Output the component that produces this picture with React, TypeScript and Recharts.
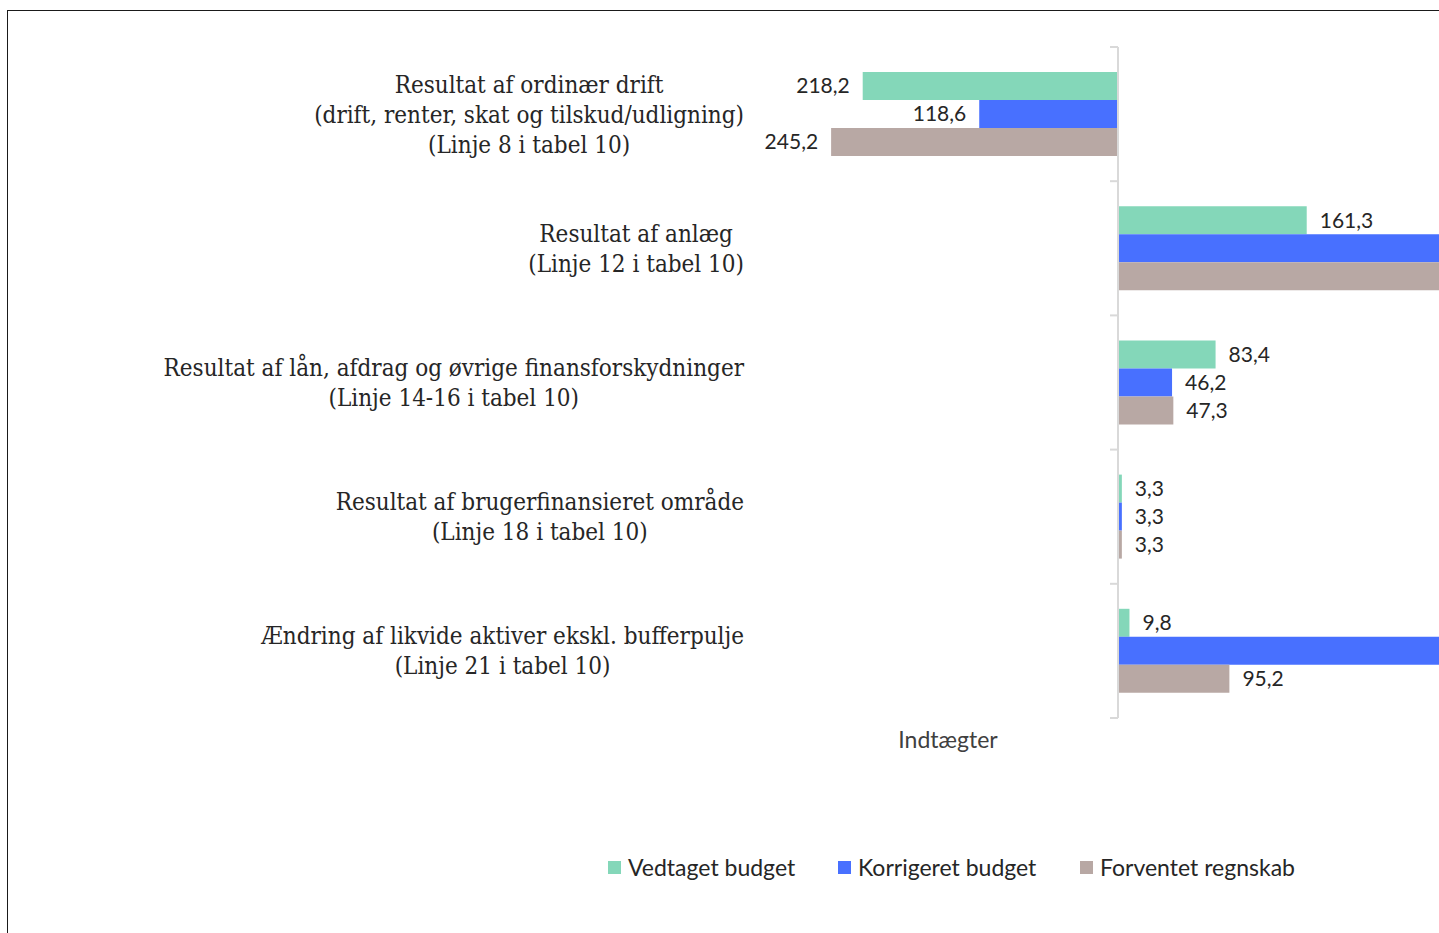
import React from 'react';
import { BarChart, Bar, XAxis, YAxis, ReferenceLine, LabelList, Legend } from 'recharts';

const categoryLines: string[][] = [
  ['Resultat af ordinær drift', '(drift, renter, skat og tilskud/udligning)', '(Linje 8 i tabel 10)'],
  ['Resultat af anlæg', '(Linje 12 i tabel 10)'],
  ['Resultat af lån, afdrag og øvrige finansforskydninger', '(Linje 14-16 i tabel 10)'],
  ['Resultat af brugerfinansieret område', '(Linje 18 i tabel 10)'],
  ['Ændring af likvide aktiver ekskl. bufferpulje', '(Linje 21 i tabel 10)'],
];
const vedtaget = [-218.2, 161.3, 83.4, 3.3, 9.8];
const korrigeret = [-118.6, 318.4, 46.2, 3.3, 301.5];
const forventet = [-245.2, 296.1, 47.3, 3.3, 95.2];
const seriesNames = ['Vedtaget budget', 'Korrigeret budget', 'Forventet regnskab'];
const seriesKeys = ['v', 'k', 'f'];
const seriesColors = ['#84D7B9', '#4870FF', '#B8A8A4'];
const xDomain: [number, number] = [-300, 400];
const xAxisTitle = 'Indtægter';

const data = categoryLines.map((lines, i) => ({
  name: lines.join('\n'),
  v: vedtaget[i],
  k: korrigeret[i],
  f: forventet[i],
}));

const CAT_FAMILY = '"DejaVu Serif Condensed", "DejaVu Serif", serif';
const CAT_SIZE = 24;
let ctx: CanvasRenderingContext2D | null = null;
function measure(s: string): number {
  if (!ctx) ctx = document.createElement('canvas').getContext('2d');
  if (!ctx) return s.length * 10;
  ctx.font = `${CAT_SIZE}px ${CAT_FAMILY}`;
  return ctx.measureText(s).width;
}

const CategoryTick = (props: any) => {
  const { x, y, payload } = props;
  const lines = String(payload.value).split('\n');
  const maxW = Math.max(...lines.map(measure));
  const cx = x - maxW / 2;
  const lh = 30;
  const y0 = y - ((lines.length - 1) * lh) / 2;
  return (
    <text textAnchor="middle" fill="#262626" style={{ fontFamily: CAT_FAMILY, fontSize: CAT_SIZE }}>
      {lines.map((l, i) => (
        <tspan key={i} x={cx} y={y0 + i * lh} dy="0.35em">
          {l}
        </tspan>
      ))}
    </text>
  );
};

const ValueLabel = (props: any) => {
  const { x, y, width, height, value } = props;
  const v = Number(value);
  const x1 = Number(x);
  const x2 = Number(x) + Number(width);
  const end = v < 0 ? Math.min(x1, x2) : Math.max(x1, x2);
  const gap = 13;
  return (
    <text
      x={v < 0 ? end - gap : end + gap}
      y={Number(y) + Number(height) / 2}
      dy="0.35em"
      textAnchor={v < 0 ? 'end' : 'start'}
      fill="#262626"
      style={{ fontFamily: 'Lato, sans-serif', fontSize: 21 }}
    >
      {Math.abs(v).toFixed(1).replace('.', ',')}
    </text>
  );
};

const AxisShape = (props: any) => {
  const { x1, y1, y2 } = props;
  const n = categoryLines.length;
  const ticks = [];
  for (let i = 0; i <= n; i++) {
    const ty = y1 + ((y2 - y1) * i) / n;
    ticks.push(<line key={i} x1={x1 - 8} x2={x1} y1={ty} y2={ty} stroke="#D9D9D9" strokeWidth={2} />);
  }
  return (
    <g>
      <line x1={x1} x2={x1} y1={y1} y2={y2} stroke="#D9D9D9" strokeWidth={2} />
      {ticks}
    </g>
  );
};

const legendWidths = [230, 242, 240];
const LegendContent = () => (
  <div style={{ display: 'flex', height: 30, alignItems: 'center', fontFamily: 'Lato, sans-serif', fontSize: 23, color: '#262626' }}>
    {seriesNames.map((n, i) => (
      <div key={n} style={{ width: legendWidths[i], display: 'flex', alignItems: 'center', flexShrink: 0 }}>
        <span style={{ width: 13, height: 13, background: seriesColors[i], marginRight: 7, display: 'inline-block' }} />
        <span style={{ whiteSpace: 'nowrap' }}>{n}</span>
      </div>
    ))}
  </div>
);

const AxisTitle = (props: any) => {
  const vb = props.viewBox || {};
  return (
    <text
      x={vb.x + 181}
      y={vb.y + 22}
      dy="0.35em"
      textAnchor="middle"
      fill="#404040"
      style={{ fontFamily: 'Lato, sans-serif', fontSize: 23 }}
    >
      {xAxisTitle}
    </text>
  );
};

export default function App() {
  return (
    <div style={{ position: 'absolute', left: 0, top: 0, width: 1439, height: 933, overflow: 'hidden', background: '#fff' }}>
      <div style={{ position: 'absolute', left: 7, top: 10, width: 1700, height: 1000, border: '1px solid #1a1a1a', boxSizing: 'border-box' }}>
        <div style={{ position: 'absolute', left: 0, top: 0 }}>
          <BarChart
            layout="vertical"
            width={1600}
            height={900}
            data={data}
            margin={{ top: 36, right: 22, left: 0, bottom: 123 }}
            barGap={0}
          >
            <XAxis
              type="number"
              domain={xDomain}
              allowDataOverflow
              tick={false}
              axisLine={false}
              tickLine={false}
              height={40}
              label={<AxisTitle />}
            />
            <YAxis
              type="category"
              dataKey="name"
              width={759}
              tick={<CategoryTick />}
              tickLine={false}
              axisLine={false}
              tickSize={0}
              tickMargin={23}
              interval={0}
            />
            {seriesKeys.map((k, i) => (
              <Bar key={k} dataKey={k} name={seriesNames[i]} fill={seriesColors[i]} barSize={28} isAnimationActive={false}>
                <LabelList dataKey={k} content={<ValueLabel />} />
              </Bar>
            ))}
            <ReferenceLine x={0} shape={<AxisShape />} />
            <Legend
              content={<LegendContent />}
              wrapperStyle={{ left: 600, top: 841, bottom: 'auto', width: 760, height: 30 }}
            />
          </BarChart>
        </div>
      </div>
    </div>
  );
}
